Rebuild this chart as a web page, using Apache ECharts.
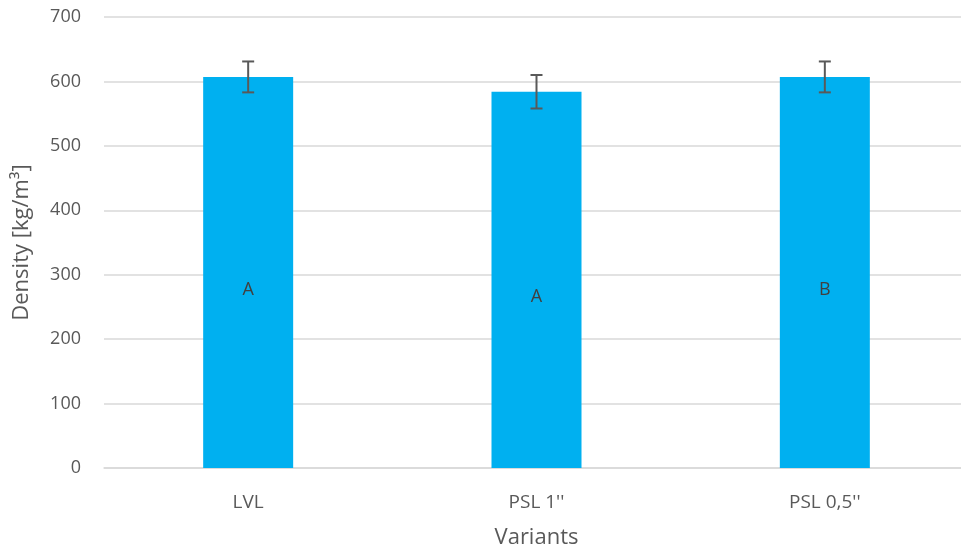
<!DOCTYPE html>
<html>
<head>
<meta charset="utf-8">
<script src="https://cdn.jsdelivr.net/npm/echarts@6/dist/echarts.min.js"></script>
<style>
html,body{margin:0;padding:0;background:#fff;}
#chart{width:961px;height:552px;}
</style>
</head>
<body>
<div id="chart"></div>
<script>
//密度柱状图
var variants = ["LVL", "PSL 1''", "PSL 0,5''"];
var density = [607, 584, 607];		//平均值
var sd = [24, 26, 24];		//误差
var groups = ["A", "A", "B"];		//分组字母
var yTicks = [0, 700, 100];		//min, max, interval

var chart = echarts.init(document.getElementById('chart'));
var font = "'Open Sans', 'DejaVu Sans', sans-serif";

var errData = [];
for (var i = 0; i < variants.length; i++) {
	errData.push([i, density[i] - sd[i], density[i] + sd[i]]);
}

option = {
	animation: false,
	grid: { left: 104, right: -8, top: 17, bottom: 84, outerBoundsMode: 'none', containLabel: false },
	xAxis: {
		type: 'category',
		data: variants,
		name: 'Variants',
		nameLocation: 'middle',
		nameGap: 59,
		nameTextStyle: { fontFamily: font, fontSize: 22, color: '#595959' },
		axisLine: { lineStyle: { color: '#d9d9d9', width: 1.5 } },
		axisTick: { show: false },
		axisLabel: { fontFamily: font, fontSize: 19, color: '#595959', margin: 25 }
	},
	yAxis: {
		type: 'value',
		min: yTicks[0],
		max: yTicks[1],
		interval: yTicks[2],
		name: 'Density [kg/m³]',
		nameLocation: 'middle',
		nameGap: 71,
		nameTextStyle: { fontFamily: font, fontSize: 22, color: '#595959' },
		axisLine: { show: false },
		axisTick: { show: false },
		axisLabel: { fontFamily: font, fontSize: 18, color: '#595959', margin: 23 },
		splitLine: { lineStyle: { color: '#d9d9d9', width: 1.5 } }
	},
	series: [
		{
			type: 'bar',
			data: density,
			barWidth: 90,
			itemStyle: { color: '#00B0F0' },
			label: {
				show: true,
				position: 'inside',
				offset: [0, 17],
				formatter: function (p) { return groups[p.dataIndex]; },
				fontFamily: font,
				fontSize: 18,
				color: '#404040'
			}
		},
		{
			type: 'custom',
			data: errData,
			z: 10,
			renderItem: function (params, api) {
				var x = api.value(0);
				var lo = api.coord([x, api.value(1)]);
				var hi = api.coord([x, api.value(2)]);
				var w = 6;
				var style = { stroke: '#595959', lineWidth: 2 };
				return {
					type: 'group',
					children: [
						{ type: 'line', shape: { x1: hi[0], y1: hi[1], x2: lo[0], y2: lo[1] }, style: style },
						{ type: 'line', shape: { x1: hi[0] - w, y1: hi[1], x2: hi[0] + w, y2: hi[1] }, style: style },
						{ type: 'line', shape: { x1: lo[0] - w, y1: lo[1], x2: lo[0] + w, y2: lo[1] }, style: style }
					]
				};
			}
		}
	]
};
chart.setOption(option, true);
</script>
</body>
</html>
